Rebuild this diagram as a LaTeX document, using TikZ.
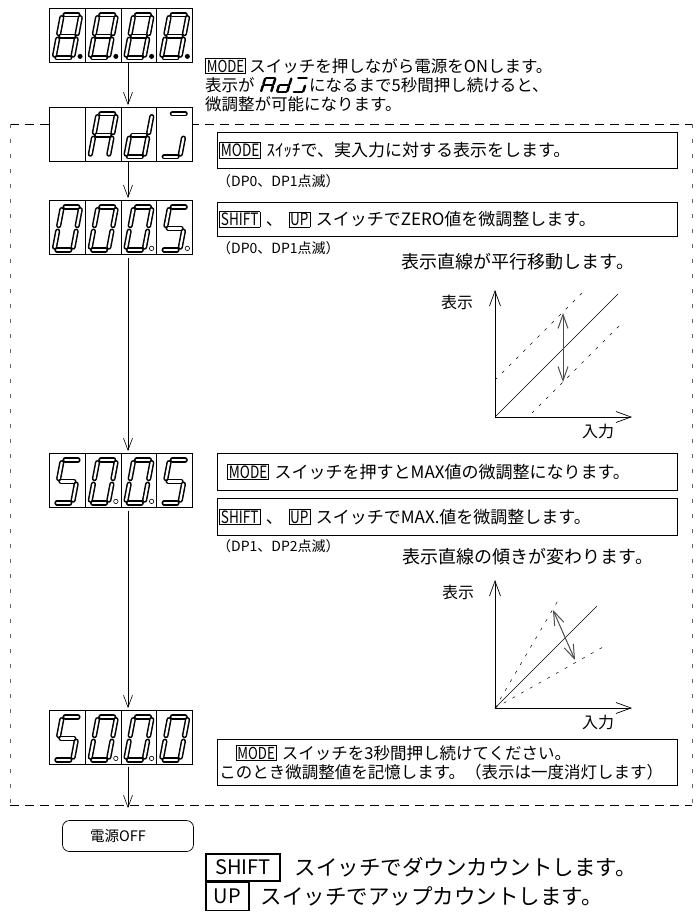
\documentclass[tikz,border=0pt]{standalone}
\usepackage{fontspec}
\setmainfont{Noto Sans CJK JP}
\usepackage{graphicx}
\usetikzlibrary{positioning,arrows.meta}

% small boxed switch names inside the text
\newcommand\keybox[1]{{\setlength\fboxsep{1pt}\setlength\fboxrule{0.6pt}\fbox{\scalebox{0.8}[1]{#1}}}}

% segments of the 7-segment digits, as pairs of corners
\def\dgEight{tl/tr,tr/mr,mr/br,bl/br,ml/bl,tl/ml,ml/mr}
\def\dgZero{tl/tr,tr/mr,mr/br,bl/br,ml/bl,tl/ml}
\def\dgFive{tl/tr,tl/ml,ml/mr,mr/br,bl/br}
\def\dgA{tl/tr,tr/mr,mr/br,ml/bl,tl/ml,ml/mr}
\def\dgD{tr/mr,mr/br,bl/br,ml/bl,ml/mr}
\def\dgJ{tl/tr,mr/br,bl/br}

\tikzset{
  dispbox/.style={draw, line width=0.8pt, fill=white, minimum width=143pt,
    minimum height=54pt, inner sep=0pt,
    path picture={\foreach \k in {1,2,3}
      \draw[line width=0.8pt] ([xshift=\k*35.75pt]path picture bounding box.north west)
        -- ([xshift=\k*35.75pt]path picture bounding box.south west);}},
  seg line/.style={double=white, double distance=2.2pt, line width=1.5pt,
    line cap=round, shorten <=2.8pt, shorten >=2.8pt},
  pics/segdigit/.style={code={
    \edef\seglist{#1}
    \begin{scope}[xslant=0.19]
      \coordinate (-bl) at (0,0);
      \coordinate (-br) at (18.5,0);
      \coordinate (-ml) at (0,-21.5);
      \coordinate (-mr) at (18.5,-21.5);
      \coordinate (-tl) at (0,-43);
      \coordinate (-tr) at (18.5,-43);
    \end{scope}
    \foreach \p/\q in \seglist {\draw[seg line] (-\p) -- (-\q);}
  }},
  dpoff/.style={draw, line width=0.6pt, fill=white},
}

\begin{document}
\begin{tikzpicture}[x=1pt, y=-1pt,
  flow/.style={-{Straight Barb[length=12pt,width=9pt]}, line width=0.6pt, shorten >=1.5pt},
  grax/.style={-{Straight Barb[length=15pt,width=11pt]}, line width=0.7pt},
  shiftarrow/.style={{Straight Barb[length=14pt,width=10pt]}-{Straight Barb[length=14pt,width=10pt]}, line width=1pt, draw=black!70},
  guide/.style={line width=0.5pt, dash pattern=on 3pt off 7pt},
  hdash/.style={line width=0.6pt, dash pattern=on 9pt off 6pt},
  vdash/.style={line width=0.6pt, draw=black!60, dash pattern=on 4pt off 11pt},
  txt/.style={inner sep=0pt, font=\fontsize{16.5}{19}\selectfont},
  note/.style={inner sep=0pt, font=\fontsize{14}{16}\selectfont},
  capt/.style={inner sep=0pt, font=\fontsize{18}{20}\selectfont},
  lbl/.style={inner sep=0pt, font=\fontsize{16}{18}\selectfont},
  msgbox/.style={draw, line width=0.7pt, inner ysep=0pt, align=left,
    font=\fontsize{17}{19}\selectfont},
  keybig/.style={draw, line width=1.6pt, inner sep=0pt, font=\fontsize{20}{22}\selectfont},
  big/.style={inner sep=0pt, font=\fontsize{21.5}{24}\selectfont}]
\useasboundingbox (0,0) rectangle (700,912);

% dashed frame round the adjusting steps
\coordinate (FA) at (10,124);
\coordinate (FB) at (692,124);
\coordinate (FC) at (692,805);
\coordinate (FD) at (10,805);
\draw[hdash] (FA) -- (FB);
\draw[hdash] (FD) -- (FC);
\draw[vdash] (FA) -- (FD);
\draw[vdash] (FB) -- (FC);

% displays
\node[dispbox] (d1) at (121,35) {};
\node[dispbox] (d2) at (121,134) {};
\node[dispbox] (d3) at (121,227) {};
\node[dispbox] (d4) at (121,480) {};
\node[dispbox] (d5) at (121,737) {};
\node[draw, rounded corners=7pt, line width=0.7pt, minimum width=131pt, minimum height=31pt,
  text width=76pt, align=left, font=\fontsize{14.5}{16}\selectfont] (off) at (128,836) {電源OFF};

% digits
\foreach \k/\dg in {0/\dgEight,1/\dgEight,2/\dgEight,3/\dgEight}
  \pic at ([xshift=\k*35.75pt+5pt, yshift=4.5pt]d1.south west) {segdigit=\dg};
\foreach \k/\dg in {1/\dgA,2/\dgD,3/\dgJ}
  \pic at ([xshift=\k*35.75pt+5pt, yshift=4.5pt]d2.south west) {segdigit=\dg};
\foreach \k/\dg in {0/\dgZero,1/\dgZero,2/\dgZero,3/\dgFive}
  \pic at ([xshift=\k*35.75pt+5pt, yshift=4.5pt]d3.south west) {segdigit=\dg};
\foreach \k/\dg in {0/\dgFive,1/\dgZero,2/\dgZero,3/\dgFive}
  \pic at ([xshift=\k*35.75pt+5pt, yshift=4.5pt]d4.south west) {segdigit=\dg};
\foreach \k/\dg in {0/\dgFive,1/\dgZero,2/\dgZero,3/\dgZero}
  \pic at ([xshift=\k*35.75pt+5pt, yshift=4.5pt]d5.south west) {segdigit=\dg};

% decimal points
\foreach \k in {0,1,2,3}
  \fill ([xshift=\k*35.75pt+31pt, yshift=6pt]d1.south west) circle (2.5pt);
\foreach \k in {2,3}
  \draw[dpoff] ([xshift=\k*35.75pt+31pt, yshift=6pt]d3.south west) circle (2.2pt);
\foreach \k in {1,2}
  \draw[dpoff] ([xshift=\k*35.75pt+31pt, yshift=6pt]d4.south west) circle (2.2pt);
\foreach \k in {1,2}
  \draw[dpoff] ([xshift=\k*35.75pt+31pt, yshift=6pt]d5.south west) circle (2.2pt);

% flow
\draw[flow] ([xshift=7pt]d1.south) -- ([xshift=7pt]d2.north);
\draw[flow] ([xshift=7pt]d2.south) -- ([xshift=7pt]d3.north);
\draw[flow] ([xshift=7pt,yshift=-4pt]d3.south) -- ([xshift=7pt]d4.north);
\draw[flow] ([xshift=7pt,yshift=-4pt]d4.south) -- ([xshift=7pt]d5.north);
\draw[flow, shorten >=12pt] ([xshift=7pt,yshift=-3pt]d5.south) -- (off.north);

% power on text
\node[txt, anchor=west] (top1) at (205,66) {\keybox{MODE} スイッチを押しながら電源をONします。};
\node[txt, anchor=west] (top2a) at (205,85) {表示が};
\foreach \k/\dg in {0/\dgA,1/\dgD,2/\dgJ}
  \pic[xscale=0.55, yscale=0.33, seg line/.style={line width=2.4pt, line cap=round,
    shorten <=0.9pt, shorten >=0.9pt}] at ([xshift=\k*16pt+6pt, yshift=-7pt]top2a.east) {segdigit=\dg};
\node[txt, anchor=west] (top2b) at ([xshift=54pt]top2a.east) {になるまで5秒間押し続けると、};
\node[txt, anchor=west] (top3) at (205,104) {微調整が可能になります。};

% zero adjust
\node[msgbox, anchor=north west, inner xsep=2pt, text width=456pt, minimum height=36pt] (boxA) at (217,132)
  {\keybox{MODE} ｽｲｯﾁで、実入力に対する表示をします。};
\node[note, anchor=west] (dpA) at (217,181) {（DP0、DP1点滅）};
\node[msgbox, anchor=north west, inner xsep=2pt, text width=456pt, minimum height=34pt] (boxB) at (217,202)
  {\keybox{SHIFT}\ 、\ \keybox{UP} スイッチでZERO値を微調整します。};
\node[note, anchor=west] (dpB) at (217,248) {（DP0、DP1点滅）};
\node[capt] (captA) at (518,262) {表示直線が平行移動します。};

% graph: parallel shift
\coordinate (O1) at (495,417);
\draw[grax] (O1) -- (495,290);
\draw[grax] (O1) -- (632,417);
\draw[line width=0.6pt] (O1) -- (618,294);
\draw[guide] (495,380) -- (585,290);
\draw[guide] (532,413) -- (623,322);
\draw[shiftarrow] (563,313) -- (563,382);
\node[lbl] (yA) at (457,302) {表示};
\node[lbl] (xA) at (598,431) {入力};

% max adjust
\node[msgbox, anchor=north west, inner xsep=10pt, text width=440pt, minimum height=37pt] (boxC) at (217,453)
  {\keybox{MODE} スイッチを押すとMAX値の微調整になります。};
\node[msgbox, anchor=north west, inner xsep=2pt, text width=456pt, minimum height=37pt] (boxD) at (217,498)
  {\keybox{SHIFT}\ 、\ \keybox{UP} スイッチでMAX.値を微調整します。};
\node[note, anchor=west] (dpC) at (217,546) {（DP1、DP2点滅）};
\node[capt] (captB) at (528,557) {表示直線の傾きが変わります。};

% graph: slope change
\coordinate (O2) at (495,708);
\draw[grax] (O2) -- (495,580);
\draw[grax] (O2) -- (632,708);
\draw[line width=0.6pt] (O2) -- (597,606);
\draw[guide] (O2) -- (560,597);
\draw[guide] (O2) -- (603,647);
\draw[shiftarrow] (553,610) -- (575,660);
\node[lbl] (yB) at (458,592) {表示};
\node[lbl] (xB) at (598,722) {入力};

% store
\node[msgbox, anchor=north west, inner xsep=2pt, inner ysep=3pt, text width=456pt, minimum height=46pt,
  font=\fontsize{16.5}{19}\selectfont] (boxE) at (217,739)
  {　\keybox{MODE} スイッチを3秒間押し続けてください。\\このとき微調整値を記憶します。（表示は一度消灯します）};

% switch legend
\node[keybig, anchor=north west, minimum width=74pt, minimum height=27pt] (kshift) at (205,853) {SHIFT};
\node[keybig, anchor=north west, minimum width=43pt, minimum height=28pt] (kup) at (kshift.south west) {UP};
\node[big, anchor=west] (tshift) at ([xshift=14pt]kshift.east) {スイッチでダウンカウントします。};
\node[big, anchor=west] (tup) at ([xshift=11pt]kup.east) {スイッチでアップカウントします。};
\end{tikzpicture}
\end{document}
